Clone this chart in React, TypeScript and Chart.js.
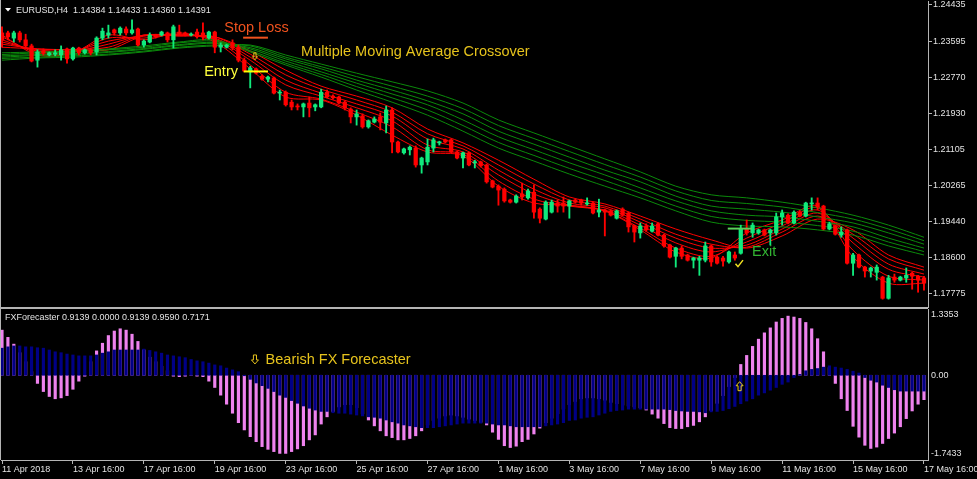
import React, { useEffect, useRef } from "react";
import { Chart, registerables } from "chart.js";

Chart.register(...registerables);

// ---------------- data (EURUSD H4) ----------------
const OPEN = [
  1.2379, 1.2379, 1.2367, 1.2379, 1.2363, 1.2349, 1.2316, 1.2337, 1.2328, 1.2330,
  1.2328, 1.2342, 1.2319, 1.2344, 1.2333, 1.2340, 1.2335, 1.2367, 1.2374, 1.2386,
  1.2379, 1.2388, 1.2379, 1.2388, 1.2351, 1.2358, 1.2374, 1.2374, 1.2379, 1.2363,
  1.2381, 1.2379, 1.2374, 1.2381, 1.2379, 1.2367, 1.2381, 1.2346, 1.2346, 1.2356,
  1.2346, 1.2316, 1.2289, 1.2296, 1.2279, 1.2272, 1.2275, 1.2240, 1.2242, 1.2219,
  1.2210, 1.2208, 1.2217, 1.2208, 1.2208, 1.2242, 1.2233, 1.2231, 1.2219, 1.2203,
  1.2185, 1.2187, 1.2162, 1.2173, 1.2185, 1.2171, 1.2201, 1.2127, 1.2102, 1.2109,
  1.2113, 1.2074, 1.2081, 1.2113, 1.2125, 1.2132, 1.2132, 1.2104, 1.2090, 1.2102,
  1.2079, 1.2081, 1.2074, 1.2037, 1.2025, 1.2018, 1.1993, 1.1988, 1.2007, 1.1998,
  1.2011, 1.1972, 1.1949, 1.1965, 1.1986, 1.1986, 1.1979, 1.1993, 1.1993, 1.1984,
  1.1986, 1.1965, 1.1970, 1.1968, 1.1951, 1.1972, 1.1963, 1.1933, 1.1917, 1.1933,
  1.1921, 1.1938, 1.1912, 1.1889, 1.1863, 1.1882, 1.1866, 1.1854, 1.1854, 1.1854,
  1.1887, 1.1861, 1.1859, 1.1850, 1.1866, 1.1870, 1.1926, 1.1917, 1.1917, 1.1924,
  1.1917, 1.1917, 1.1954, 1.1958, 1.1940, 1.1965, 1.1956, 1.1984, 1.1986, 1.1979,
  1.1926, 1.1933, 1.1912, 1.1924, 1.1847, 1.1866, 1.1838, 1.1829, 1.1826, 1.1815,
  1.1766, 1.1815, 1.1808, 1.1813, 1.1824, 1.1817, 1.1813,
];
const HIGH = [
  1.2393, 1.2383, 1.2383, 1.2383, 1.2376, 1.2353, 1.2340, 1.2342, 1.2335, 1.2340,
  1.2349, 1.2344, 1.2346, 1.2346, 1.2342, 1.2344, 1.2370, 1.2390, 1.2397, 1.2388,
  1.2393, 1.2393, 1.2409, 1.2390, 1.2363, 1.2379, 1.2376, 1.2383, 1.2381, 1.2397,
  1.2397, 1.2381, 1.2379, 1.2388, 1.2402, 1.2383, 1.2383, 1.2356, 1.2353, 1.2363,
  1.2351, 1.2321, 1.2302, 1.2298, 1.2282, 1.2279, 1.2277, 1.2247, 1.2245, 1.2224,
  1.2215, 1.2217, 1.2231, 1.2215, 1.2249, 1.2247, 1.2236, 1.2233, 1.2222, 1.2206,
  1.2201, 1.2192, 1.2178, 1.2185, 1.2194, 1.2210, 1.2206, 1.2129, 1.2113, 1.2118,
  1.2118, 1.2092, 1.2134, 1.2136, 1.2129, 1.2134, 1.2134, 1.2106, 1.2104, 1.2104,
  1.2085, 1.2083, 1.2076, 1.2039, 1.2028, 1.2021, 1.1995, 1.2005, 1.2032, 1.2018,
  1.2028, 1.1975, 1.1991, 1.1993, 1.1993, 1.2000, 1.1993, 1.1995, 1.1995, 1.1998,
  1.1988, 1.1995, 1.1972, 1.1970, 1.1970, 1.1975, 1.1965, 1.1935, 1.1940, 1.1938,
  1.1940, 1.1940, 1.1914, 1.1891, 1.1884, 1.1887, 1.1868, 1.1861, 1.1863, 1.1896,
  1.1889, 1.1863, 1.1863, 1.1875, 1.1873, 1.1935, 1.1947, 1.1940, 1.1926, 1.1926,
  1.1926, 1.1963, 1.1970, 1.1961, 1.1968, 1.1968, 1.1988, 1.1998, 1.1998, 1.1981,
  1.1942, 1.1935, 1.1931, 1.1926, 1.1870, 1.1868, 1.1840, 1.1838, 1.1843, 1.1817,
  1.1819, 1.1822, 1.1817, 1.1836, 1.1826, 1.1819, 1.1817,
];
const LOW = [
  1.2346, 1.2363, 1.2358, 1.2358, 1.2344, 1.2312, 1.2300, 1.2328, 1.2326, 1.2326,
  1.2316, 1.2309, 1.2316, 1.2328, 1.2330, 1.2328, 1.2328, 1.2363, 1.2367, 1.2374,
  1.2374, 1.2374, 1.2376, 1.2349, 1.2346, 1.2356, 1.2367, 1.2372, 1.2358, 1.2344,
  1.2374, 1.2372, 1.2372, 1.2367, 1.2363, 1.2365, 1.2333, 1.2335, 1.2344, 1.2340,
  1.2312, 1.2289, 1.2252, 1.2284, 1.2270, 1.2266, 1.2238, 1.2224, 1.2210, 1.2201,
  1.2201, 1.2185, 1.2185, 1.2199, 1.2206, 1.2229, 1.2226, 1.2215, 1.2201, 1.2171,
  1.2166, 1.2159, 1.2159, 1.2171, 1.2155, 1.2148, 1.2102, 1.2102, 1.2099, 1.2097,
  1.2069, 1.2055, 1.2074, 1.2104, 1.2120, 1.2125, 1.2102, 1.2088, 1.2067, 1.2072,
  1.2067, 1.2069, 1.2032, 1.2021, 1.1981, 1.1988, 1.1986, 1.1986, 1.1993, 1.1995,
  1.1951, 1.1940, 1.1947, 1.1963, 1.1965, 1.1965, 1.1951, 1.1986, 1.1981, 1.1981,
  1.1961, 1.1954, 1.1910, 1.1956, 1.1949, 1.1956, 1.1919, 1.1896, 1.1905, 1.1921,
  1.1919, 1.1910, 1.1884, 1.1859, 1.1838, 1.1857, 1.1852, 1.1836, 1.1819, 1.1850,
  1.1840, 1.1845, 1.1840, 1.1847, 1.1854, 1.1868, 1.1912, 1.1907, 1.1914, 1.1910,
  1.1889, 1.1912, 1.1935, 1.1938, 1.1938, 1.1954, 1.1954, 1.1970, 1.1970, 1.1924,
  1.1924, 1.1912, 1.1907, 1.1845, 1.1819, 1.1836, 1.1815, 1.1815, 1.1808, 1.1764,
  1.1764, 1.1803, 1.1806, 1.1803, 1.1787, 1.1780, 1.1785,
];
const CLOSE = [
  1.2363, 1.2370, 1.2379, 1.2363, 1.2349, 1.2314, 1.2335, 1.2333, 1.2333, 1.2333,
  1.2340, 1.2319, 1.2344, 1.2333, 1.2340, 1.2333, 1.2367, 1.2383, 1.2379, 1.2379,
  1.2390, 1.2379, 1.2386, 1.2351, 1.2360, 1.2374, 1.2370, 1.2381, 1.2363, 1.2393,
  1.2376, 1.2374, 1.2376, 1.2370, 1.2370, 1.2381, 1.2346, 1.2351, 1.2351, 1.2344,
  1.2316, 1.2291, 1.2298, 1.2286, 1.2272, 1.2277, 1.2240, 1.2242, 1.2213, 1.2208,
  1.2208, 1.2215, 1.2206, 1.2213, 1.2242, 1.2231, 1.2229, 1.2217, 1.2206, 1.2185,
  1.2192, 1.2162, 1.2176, 1.2180, 1.2173, 1.2201, 1.2127, 1.2104, 1.2111, 1.2115,
  1.2074, 1.2090, 1.2115, 1.2132, 1.2127, 1.2127, 1.2104, 1.2090, 1.2102, 1.2074,
  1.2081, 1.2072, 1.2035, 1.2023, 1.2016, 1.1991, 1.1988, 1.2002, 1.2000, 1.2014,
  1.1965, 1.1951, 1.1988, 1.1988, 1.1979, 1.1979, 1.1991, 1.1988, 1.1986, 1.1986,
  1.1963, 1.1970, 1.1965, 1.1958, 1.1968, 1.1958, 1.1931, 1.1919, 1.1933, 1.1924,
  1.1933, 1.1912, 1.1887, 1.1861, 1.1882, 1.1863, 1.1854, 1.1859, 1.1859, 1.1887,
  1.1850, 1.1847, 1.1852, 1.1873, 1.1859, 1.1926, 1.1917, 1.1935, 1.1924, 1.1912,
  1.1924, 1.1954, 1.1963, 1.1940, 1.1965, 1.1956, 1.1986, 1.1986, 1.1977, 1.1926,
  1.1938, 1.1914, 1.1919, 1.1847, 1.1866, 1.1838, 1.1829, 1.1836, 1.1838, 1.1766,
  1.1813, 1.1808, 1.1815, 1.1819, 1.1817, 1.1808, 1.1801,
];

// moving-average ribbon, read every 6th bar
const MA_BARS = [0, 6, 12, 18, 24, 30, 36, 42, 48, 54, 60, 66, 72, 78, 84, 90, 96, 102, 108, 114, 120, 126, 132, 138, 144, 150, 156];
const RED_EMA_3 = [1.2374, 1.2328, 1.2333, 1.2374, 1.2363, 1.2379, 1.2358, 1.2296, 1.2231, 1.2224, 1.2189, 1.2143, 1.2104, 1.2095, 1.2025, 1.1986, 1.1981, 1.1968, 1.1924, 1.1873, 1.1859, 1.1917, 1.1947, 1.1979, 1.1861, 1.1801, 1.1801];
const RED_EMA_5 = [1.2370, 1.2333, 1.2335, 1.2367, 1.2367, 1.2376, 1.2363, 1.2305, 1.2242, 1.2226, 1.2196, 1.2162, 1.2109, 1.2099, 1.2037, 1.1995, 1.1979, 1.1968, 1.1928, 1.1882, 1.1863, 1.1905, 1.1940, 1.1975, 1.1877, 1.1817, 1.1808];
const RED_EMA_8 = [1.2363, 1.2337, 1.2337, 1.2360, 1.2372, 1.2374, 1.2365, 1.2316, 1.2259, 1.2233, 1.2206, 1.2176, 1.2120, 1.2104, 1.2051, 1.2007, 1.1981, 1.1970, 1.1935, 1.1894, 1.1873, 1.1896, 1.1933, 1.1970, 1.1894, 1.1833, 1.1815];
const RED_EMA_10 = [1.2358, 1.2340, 1.2337, 1.2353, 1.2374, 1.2374, 1.2367, 1.2323, 1.2270, 1.2240, 1.2215, 1.2187, 1.2134, 1.2111, 1.2062, 1.2018, 1.1986, 1.1975, 1.1942, 1.1905, 1.1882, 1.1889, 1.1926, 1.1963, 1.1905, 1.1845, 1.1822];
const RED_EMA_12 = [1.2353, 1.2342, 1.2340, 1.2346, 1.2374, 1.2372, 1.2370, 1.2330, 1.2282, 1.2249, 1.2224, 1.2196, 1.2146, 1.2118, 1.2074, 1.2030, 1.1993, 1.1979, 1.1949, 1.1914, 1.1891, 1.1884, 1.1919, 1.1956, 1.1914, 1.1857, 1.1831];
const RED_EMA_15 = [1.2346, 1.2342, 1.2340, 1.2340, 1.2372, 1.2372, 1.2370, 1.2337, 1.2293, 1.2256, 1.2233, 1.2206, 1.2157, 1.2125, 1.2085, 1.2041, 1.2000, 1.1984, 1.1956, 1.1926, 1.1901, 1.1882, 1.1910, 1.1949, 1.1924, 1.1866, 1.1838];
const GREEN_EMA_30 = [1.2333, 1.2335, 1.2337, 1.2342, 1.2349, 1.2358, 1.2363, 1.2335, 1.2305, 1.2277, 1.2247, 1.2219, 1.2189, 1.2152, 1.2113, 1.2083, 1.2053, 1.2025, 1.1998, 1.1968, 1.1942, 1.1933, 1.1931, 1.1924, 1.1912, 1.1887, 1.1866];
const GREEN_EMA_35 = [1.2329, 1.2333, 1.2335, 1.2340, 1.2346, 1.2356, 1.2360, 1.2338, 1.2309, 1.2283, 1.2255, 1.2229, 1.2201, 1.2165, 1.2126, 1.2096, 1.2066, 1.2038, 1.2009, 1.1979, 1.1955, 1.1946, 1.1942, 1.1934, 1.1921, 1.1896, 1.1874];
const GREEN_EMA_40 = [1.2326, 1.2329, 1.2331, 1.2336, 1.2343, 1.2352, 1.2357, 1.2342, 1.2314, 1.2289, 1.2263, 1.2238, 1.2213, 1.2178, 1.2139, 1.2109, 1.2079, 1.2051, 1.2021, 1.1991, 1.1968, 1.1958, 1.1954, 1.1944, 1.1931, 1.1905, 1.1882];
const GREEN_EMA_45 = [1.2323, 1.2327, 1.2329, 1.2334, 1.2341, 1.2350, 1.2355, 1.2345, 1.2319, 1.2296, 1.2270, 1.2247, 1.2222, 1.2192, 1.2152, 1.2122, 1.2092, 1.2062, 1.2035, 1.2002, 1.1979, 1.1972, 1.1965, 1.1954, 1.1940, 1.1917, 1.1891];
const GREEN_EMA_50 = [1.2320, 1.2323, 1.2326, 1.2330, 1.2337, 1.2346, 1.2351, 1.2349, 1.2323, 1.2301, 1.2278, 1.2256, 1.2233, 1.2204, 1.2165, 1.2135, 1.2105, 1.2075, 1.2046, 1.2014, 1.1992, 1.1985, 1.1977, 1.1964, 1.1949, 1.1926, 1.1899];
const GREEN_EMA_60 = [1.2316, 1.2321, 1.2323, 1.2328, 1.2335, 1.2344, 1.2349, 1.2351, 1.2328, 1.2307, 1.2286, 1.2266, 1.2245, 1.2217, 1.2178, 1.2148, 1.2118, 1.2088, 1.2058, 1.2025, 1.2005, 1.1998, 1.1988, 1.1975, 1.1958, 1.1935, 1.1907];

// FX Forecaster histogram
const FX_NAVY = [
  0.60, 0.63, 0.65, 0.65, 0.63, 0.63, 0.61, 0.60, 0.56, 0.52,
  0.50, 0.47, 0.45, 0.43, 0.43, 0.43, 0.45, 0.49, 0.52, 0.56,
  0.56, 0.56, 0.56, 0.56, 0.58, 0.55, 0.52, 0.49, 0.45, 0.43,
  0.41, 0.39, 0.35, 0.32, 0.30, 0.27, 0.23, 0.21, 0.16, 0.12,
  0.08, -0.01, -0.09, -0.17, -0.23, -0.29, -0.36, -0.44, -0.49, -0.56,
  -0.62, -0.68, -0.73, -0.77, -0.80, -0.80, -0.83, -0.84, -0.84, -0.86,
  -0.88, -0.90, -0.92, -0.93, -0.95, -0.99, -1.03, -1.06, -1.10, -1.12,
  -1.14, -1.16, -1.16, -1.16, -1.14, -1.12, -1.10, -1.08, -1.06, -1.06,
  -1.06, -1.06, -1.06, -1.08, -1.10, -1.10, -1.12, -1.14, -1.14, -1.14,
  -1.14, -1.14, -1.12, -1.10, -1.08, -1.05, -1.00, -0.99, -0.95, -0.93,
  -0.92, -0.88, -0.84, -0.80, -0.78, -0.77, -0.75, -0.75, -0.75, -0.75,
  -0.75, -0.75, -0.75, -0.76, -0.78, -0.79, -0.80, -0.80, -0.81, -0.83,
  -0.81, -0.80, -0.78, -0.74, -0.69, -0.63, -0.57, -0.52, -0.44, -0.39,
  -0.33, -0.27, -0.20, -0.15, -0.05, 0.02, 0.10, 0.13, 0.15, 0.18,
  0.21, 0.18, 0.16, 0.13, 0.09, 0.05, -0.05, -0.11, -0.15, -0.22,
  -0.27, -0.32, -0.35, -0.35, -0.35, -0.35, -0.35,
];
const FX_PINK = [
  1.00, 0.84, 0.69, 0.50, 0.30, 0.08, -0.18, -0.36, -0.47, -0.52,
  -0.50, -0.45, -0.31, -0.13, -0.02, 0.30, 0.54, 0.71, 0.88, 0.98,
  1.03, 1.00, 0.91, 0.75, 0.56, 0.40, 0.30, 0.20, 0.10, -0.02,
  -0.03, -0.02, 0.00, -0.02, -0.03, -0.13, -0.27, -0.44, -0.64, -0.84,
  -1.05, -1.21, -1.36, -1.47, -1.58, -1.64, -1.69, -1.73, -1.73, -1.69,
  -1.63, -1.56, -1.43, -1.32, -1.08, -0.92, -0.80, -0.70, -0.65, -0.65,
  -0.72, -0.85, -0.99, -1.12, -1.23, -1.34, -1.38, -1.43, -1.43, -1.40,
  -1.34, -1.23, -1.10, -1.00, -0.95, -0.90, -0.88, -0.90, -0.93, -0.97,
  -1.00, -1.04, -1.10, -1.26, -1.42, -1.56, -1.60, -1.57, -1.47, -1.42,
  -1.30, -1.17, -1.05, -0.95, -0.85, -0.75, -0.65, -0.58, -0.52, -0.50,
  -0.50, -0.52, -0.55, -0.60, -0.63, -0.66, -0.68, -0.70, -0.72, -0.77,
  -0.86, -0.95, -1.07, -1.16, -1.18, -1.18, -1.14, -1.11, -1.03, -0.92,
  -0.78, -0.62, -0.45, -0.25, -0.05, 0.24, 0.44, 0.64, 0.80, 0.94,
  1.05, 1.18, 1.26, 1.31, 1.29, 1.26, 1.17, 1.03, 0.81, 0.52,
  0.17, -0.18, -0.52, -0.78, -1.13, -1.37, -1.55, -1.62, -1.59, -1.51,
  -1.40, -1.28, -1.14, -0.96, -0.79, -0.64, -0.54,
];

const PRICE_TICKS = [1.24435, 1.23595, 1.2277, 1.2193, 1.21105, 1.20265, 1.1944, 1.186, 1.17775];
const FX_TICKS = [1.3353, 0, -1.7433];
const FX_TICK_LABELS = ["1.3353", "0.00", "-1.7433"];
const DATE_TICK_BARS = [0, 12, 24, 36, 48, 60, 72, 84, 96, 108, 120, 132, 144, 156];
const DATE_TICK_LABELS = [
  "11 Apr 2018", "13 Apr 16:00", "17 Apr 16:00", "19 Apr 16:00", "23 Apr 16:00",
  "25 Apr 16:00", "27 Apr 16:00", "1 May 16:00", "3 May 16:00", "7 May 16:00",
  "9 May 16:00", "11 May 16:00", "15 May 16:00", "17 May 16:00",
];
const SYMBOL_LEGEND = "EURUSD,H4  1.14384 1.14433 1.14360 1.14391";
const FX_LEGEND = "FXForecaster 0.9139 0.0000 0.9139 0.9590 0.7171";

// annotations (bar index / price)
const TOP_TEXTS = [
  { text: "Stop Loss", bar: 37.6, price: 1.2381, color: "#f0521e" },
  { text: "Multiple Moving Average Crossover", bar: 50.6, price: 1.2326, color: "#e6c31c" },
  { text: "Entry", bar: 34.2, price: 1.2279, color: "#ffff3c" },
  { text: "Exit", bar: 126.9, price: 1.1863, color: "#32b432" },
];
const TOP_LEVELS = [
  { from: 40.8, to: 45.0, price: 1.2368, color: "#f0521e" },
  { from: 40.9, to: 45.0, price: 1.229, color: "#ffff00" },
  { from: 122.8, to: 126.9, price: 1.1927, color: "#5ad25a" },
];
const ENTRY_ARROW = { bar: 42.8, price: 1.2333 };
const EXIT_CHECK = { bar: 124.7, price: 1.1846 };
const FX_TEXT = { text: "Bearish FX Forecaster", bar: 44.6, value: 0.25, color: "#e6c31c" };
const FX_DOWN_ARROW = { bar: 42.8, value: 0.45 };
const FX_UP_ARROW = { bar: 124.8, value: -0.142 };

// ---------------- style / layout ----------------
const X_MIN = -0.17;
const X_MAX = 156.68;
const PRICE_MIN = 1.17459;
const PRICE_MAX = 1.24527;
const FX_MIN = -1.876;
const FX_MAX = 1.468;
const BULL = "#10ea7c";
const BEAR = "#ff0000";
const RED_LINE = "#ff0000";
const GREEN_LINE = "#0b8a0b";
const NAVY = "#000086";
const PINK = "#ee82ee";
const FRAME = "#b4b4b4";
const TEXT = "#e2e2e2";
const SMALL_FONT = '9px "Liberation Sans", Arial, sans-serif';
const BIG_FONT = '14.5px "Liberation Sans", Arial, sans-serif';

function drawArrow(ctx: CanvasRenderingContext2D, cx: number, top: number, w: number, h: number, dir: "up" | "down", color: string) {
  const s = w * 0.22;
  const hw = w / 2;
  const L = h * 0.55;
  ctx.beginPath();
  if (dir === "down") {
    ctx.moveTo(cx - s, top);
    ctx.lineTo(cx + s, top);
    ctx.lineTo(cx + s, top + L);
    ctx.lineTo(cx + hw, top + L);
    ctx.lineTo(cx, top + h);
    ctx.lineTo(cx - hw, top + L);
    ctx.lineTo(cx - s, top + L);
  } else {
    ctx.moveTo(cx, top);
    ctx.lineTo(cx + hw, top + h - L);
    ctx.lineTo(cx + s, top + h - L);
    ctx.lineTo(cx + s, top + h);
    ctx.lineTo(cx - s, top + h);
    ctx.lineTo(cx - s, top + h - L);
    ctx.lineTo(cx - hw, top + h - L);
  }
  ctx.closePath();
  ctx.strokeStyle = color;
  ctx.lineWidth = 1;
  ctx.stroke();
}

const topDecor = {
  id: "topDecor",
  afterDraw(chart: any) {
    const ctx: CanvasRenderingContext2D = chart.ctx;
    const xs = chart.scales.x;
    const ys = chart.scales.y;
    const ca = chart.chartArea;
    ctx.save();
    ctx.strokeStyle = FRAME;
    ctx.lineWidth = 1;
    ctx.beginPath();
    ctx.moveTo(0.5, 0);
    ctx.lineTo(0.5, ca.bottom + 1);
    ctx.moveTo(0, ca.bottom + 0.5);
    ctx.lineTo(ca.right, ca.bottom + 0.5);
    ctx.stroke();

    // symbol legend
    ctx.fillStyle = "#ffffff";
    ctx.beginPath();
    ctx.moveTo(5, 8);
    ctx.lineTo(11, 8);
    ctx.lineTo(8, 11.5);
    ctx.closePath();
    ctx.fill();
    ctx.font = SMALL_FONT;
    ctx.fillStyle = TEXT;
    ctx.textBaseline = "alphabetic";
    ctx.textAlign = "left";
    ctx.fillText(SYMBOL_LEGEND, 16, 13);

    // level lines
    for (const l of TOP_LEVELS) {
      const y = ys.getPixelForValue(l.price);
      ctx.strokeStyle = l.color;
      ctx.lineWidth = 2;
      ctx.beginPath();
      ctx.moveTo(xs.getPixelForValue(l.from), y);
      ctx.lineTo(xs.getPixelForValue(l.to), y);
      ctx.stroke();
    }
    // texts
    ctx.font = BIG_FONT;
    for (const t of TOP_TEXTS) {
      ctx.fillStyle = t.color;
      ctx.fillText(t.text, xs.getPixelForValue(t.bar), ys.getPixelForValue(t.price));
    }
    drawArrow(ctx, xs.getPixelForValue(ENTRY_ARROW.bar), ys.getPixelForValue(ENTRY_ARROW.price), 5, 7, "down", "#e6c31c");
    // check mark
    const cx = xs.getPixelForValue(EXIT_CHECK.bar);
    const cy = ys.getPixelForValue(EXIT_CHECK.price);
    ctx.strokeStyle = "#f0e020";
    ctx.lineWidth = 1.5;
    ctx.beginPath();
    ctx.moveTo(cx - 3.5, cy);
    ctx.lineTo(cx - 1, cy + 3);
    ctx.lineTo(cx + 4, cy - 3.5);
    ctx.stroke();
    ctx.restore();
  },
};

const bottomDecor = {
  id: "bottomDecor",
  afterDraw(chart: any) {
    const ctx: CanvasRenderingContext2D = chart.ctx;
    const xs = chart.scales.x;
    const ys = chart.scales.y;
    const ca = chart.chartArea;
    ctx.save();
    ctx.strokeStyle = FRAME;
    ctx.lineWidth = 1;
    ctx.beginPath();
    ctx.moveTo(0, 0.5);
    ctx.lineTo(ca.right, 0.5);
    ctx.moveTo(0.5, 0);
    ctx.lineTo(0.5, ca.bottom);
    ctx.stroke();

    ctx.font = SMALL_FONT;
    ctx.fillStyle = TEXT;
    ctx.textBaseline = "alphabetic";
    ctx.textAlign = "left";
    ctx.fillText(FX_LEGEND, 5, 11.5);

    ctx.font = BIG_FONT;
    ctx.fillStyle = FX_TEXT.color;
    ctx.fillText(FX_TEXT.text, xs.getPixelForValue(FX_TEXT.bar), ys.getPixelForValue(FX_TEXT.value));
    drawArrow(ctx, xs.getPixelForValue(FX_DOWN_ARROW.bar), ys.getPixelForValue(FX_DOWN_ARROW.value), 7, 9, "down", "#e6c31c");
    drawArrow(ctx, xs.getPixelForValue(FX_UP_ARROW.bar), ys.getPixelForValue(FX_UP_ARROW.value), 7, 9, "up", "#f0d020");
    ctx.restore();
  },
};

export default function App() {
  const topRef = useRef<HTMLCanvasElement>(null);
  const botRef = useRef<HTMLCanvasElement>(null);

  useEffect(() => {
    document.body.style.margin = "0";
    document.body.style.background = "#000";
    const idx = OPEN.map((_, i) => i);
    const candleColor = OPEN.map((o, i) => (CLOSE[i] >= o ? BULL : BEAR));
    const maSet = (vals: number[], color: string) => ({
      type: "line" as const,
      data: MA_BARS.map((b, k) => ({ x: b, y: vals[k] })),
      borderColor: color,
      borderWidth: 1,
      pointRadius: 0,
      tension: 0.3,
      fill: false,
      order: 5,
    });
    const redSets = [RED_EMA_3, RED_EMA_5, RED_EMA_8, RED_EMA_10, RED_EMA_12, RED_EMA_15];
    const greenSets = [GREEN_EMA_30, GREEN_EMA_35, GREEN_EMA_40, GREEN_EMA_45, GREEN_EMA_50, GREEN_EMA_60];

    const top = new Chart(topRef.current as HTMLCanvasElement, {
      type: "bar",
      data: {
        datasets: [
          {
            type: "bar",
            data: idx.map((i) => ({ x: i, y: [OPEN[i], CLOSE[i]] })) as any,
            backgroundColor: candleColor,
            barThickness: 3.6,
            minBarLength: 1,
            grouped: false,
            order: 0,
          },
          {
            type: "bar",
            data: idx.map((i) => ({ x: i, y: [LOW[i], HIGH[i]] })) as any,
            backgroundColor: candleColor,
            barThickness: 1.2,
            grouped: false,
            order: 1,
          },
          ...greenSets.map((v) => maSet(v, GREEN_LINE)),
          ...redSets.map((v) => maSet(v, RED_LINE)),
        ] as any,
      },
      options: {
        responsive: false,
        maintainAspectRatio: false,
        animation: false,
        devicePixelRatio: 1,
        events: [],
        layout: { padding: { left: 1, top: 1, right: 0, bottom: 1 } },
        plugins: { legend: { display: false }, tooltip: { enabled: false } },
        scales: {
          x: { type: "linear", display: false, min: X_MIN, max: X_MAX, offset: false, grid: { offset: false } },
          y: {
            type: "linear",
            position: "right",
            min: PRICE_MIN,
            max: PRICE_MAX,
            bounds: "data",
            beginAtZero: false,
            afterBuildTicks: (s: any) => {
              s.ticks = PRICE_TICKS.map((v) => ({ value: v }));
            },
            afterFit: (s: any) => {
              s.width = 49;
              s.paddingTop = 0;
              s.paddingBottom = 0;
            },
            ticks: {
              color: TEXT,
              font: { family: '"Liberation Sans", Arial, sans-serif', size: 9 },
              padding: 1,
              callback: (v: any) => Number(v).toFixed(5),
            },
            grid: { display: true, drawOnChartArea: false, drawTicks: true, tickLength: 4, color: FRAME },
            border: { display: true, color: FRAME },
          },
        },
      } as any,
      plugins: [topDecor],
    });

    const bottom = new Chart(botRef.current as HTMLCanvasElement, {
      type: "bar",
      data: {
        datasets: [
          {
            type: "bar",
            data: idx.map((i) => ({ x: i, y: FX_NAVY[i] })) as any,
            backgroundColor: NAVY,
            barThickness: 2.5,
            grouped: false,
            order: 0,
          },
          {
            type: "bar",
            data: idx.map((i) => ({ x: i, y: FX_PINK[i] })) as any,
            backgroundColor: PINK,
            barThickness: 2.5,
            grouped: false,
            order: 1,
          },
        ] as any,
      },
      options: {
        responsive: false,
        maintainAspectRatio: false,
        animation: false,
        devicePixelRatio: 1,
        events: [],
        layout: { padding: { left: 1, top: 1, right: 0, bottom: 0 } },
        plugins: { legend: { display: false }, tooltip: { enabled: false } },
        scales: {
          x: {
            type: "linear",
            position: "bottom",
            min: X_MIN,
            max: X_MAX,
            offset: false,
            bounds: "data",
            afterBuildTicks: (s: any) => {
              s.ticks = DATE_TICK_BARS.map((v) => ({ value: v }));
            },
            afterFit: (s: any) => {
              s.height = 19;
              s.paddingLeft = 0;
              s.paddingRight = 0;
            },
            ticks: {
              autoSkip: false,
              maxRotation: 0,
              minRotation: 0,
              align: "start",
              padding: 0,
              color: TEXT,
              font: { family: '"Liberation Sans", Arial, sans-serif', size: 9 },
              callback: (_v: any, i: number) => DATE_TICK_LABELS[i],
            },
            grid: { display: true, offset: false, drawOnChartArea: false, drawTicks: true, tickLength: 4, color: FRAME },
            border: { display: true, color: FRAME },
          },
          y: {
            type: "linear",
            position: "right",
            min: FX_MIN,
            max: FX_MAX,
            bounds: "data",
            beginAtZero: false,
            afterBuildTicks: (s: any) => {
              s.ticks = FX_TICKS.map((v) => ({ value: v }));
            },
            afterFit: (s: any) => {
              s.width = 49;
              s.paddingTop = 0;
              s.paddingBottom = 0;
            },
            ticks: {
              color: TEXT,
              font: { family: '"Liberation Sans", Arial, sans-serif', size: 9 },
              padding: 3,
              callback: (_v: any, i: number) => FX_TICK_LABELS[i],
            },
            grid: { display: false, drawTicks: false },
            border: { display: true, color: FRAME },
          },
        },
      } as any,
      plugins: [bottomDecor],
    });

    return () => {
      top.destroy();
      bottom.destroy();
    };
  }, []);

  return (
    <div style={{ position: "fixed", left: 0, top: 0, width: 977, height: 479, background: "#000", overflow: "hidden" }}>
      <canvas ref={topRef} width={977} height={308} style={{ display: "block", width: 977, height: 308 }} />
      <canvas ref={botRef} width={977} height={171} style={{ display: "block", width: 977, height: 171 }} />
    </div>
  );
}
